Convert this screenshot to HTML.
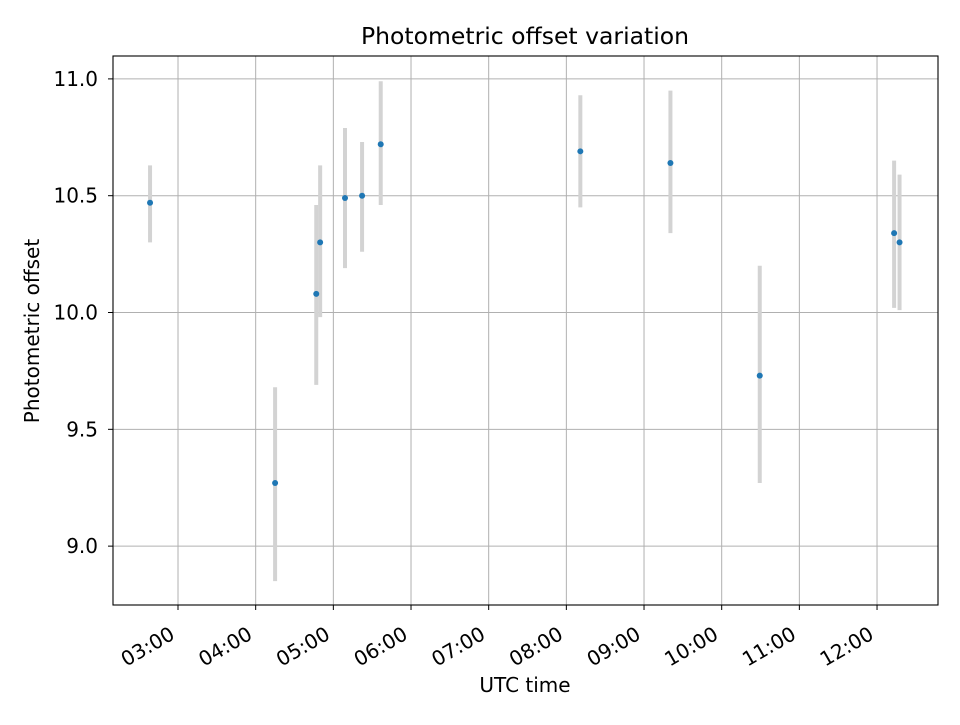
<!DOCTYPE html>
<html><head><meta charset="utf-8"><style>
body{margin:0;background:#fff;font-family:"Liberation Sans","DejaVu Sans",sans-serif;}
svg text{font-family:"DejaVu Sans","Liberation Sans",sans-serif;}
</style></head><body>
<svg id="chart" width="960" height="720" viewBox="0 0 960 720" xmlns="http://www.w3.org/2000/svg">
<rect width="960" height="720" fill="#fff"/>
<g id="grid"></g>
<g id="errs"></g>
<g id="pts"></g>
<rect x="113" y="56" width="825" height="549" fill="none" stroke="#000" stroke-width="1.1"/>
<g id="ticks"></g>
<text x="525" y="44" text-anchor="middle" font-size="23.5">Photometric offset variation</text>
<text x="525" y="692" text-anchor="middle" font-size="20">UTC time</text>
<text transform="translate(39,331) rotate(-90)" text-anchor="middle" font-size="20">Photometric offset</text>
</svg>
<script>
const times = [2.64, 4.25, 4.78, 4.83, 5.15, 5.37, 5.61, 8.18, 9.34, 10.49, 12.22, 12.29];
const values = [10.47, 9.27, 10.08, 10.30, 10.49, 10.50, 10.72, 10.69, 10.64, 9.73, 10.34, 10.30];
const lows = [10.30, 8.85, 9.69, 9.98, 10.19, 10.26, 10.46, 10.45, 10.34, 9.27, 10.02, 10.01];
const highs = [10.63, 9.68, 10.46, 10.63, 10.79, 10.73, 10.99, 10.93, 10.95, 10.20, 10.65, 10.59];
const xTicks = [3,4,5,6,7,8,9,10,11,12];
const xTickLabels = ["03:00","04:00","05:00","06:00","07:00","08:00","09:00","10:00","11:00","12:00"];
const yTicks = [9.0, 9.5, 10.0, 10.5, 11.0];
const yTickLabels = ["9.0","9.5","10.0","10.5","11.0"];

const L=113,R=938,T=56,B=605, xMin=2.163,xMax=12.785,yMin=8.748,yMax=11.098;
const xs=v=>L+(v-xMin)/(xMax-xMin)*(R-L);
const ys=v=>B-(v-yMin)/(yMax-yMin)*(B-T);
const NS="http://www.w3.org/2000/svg";
function mk(tag,attrs,parent){const e=document.createElementNS(NS,tag);for(const k in attrs)e.setAttribute(k,attrs[k]);parent.appendChild(e);return e;}
const grid=document.getElementById('grid'),ticks=document.getElementById('ticks');
xTicks.forEach((t,i)=>{
  const x=xs(t);
  const g=mk('line',{x1:x,x2:x,y1:T,y2:B,stroke:'#b0b0b0','stroke-width':1},grid);
  
  
  const tk=mk('line',{x1:x,x2:x,y1:B,y2:B+5,stroke:'#000','stroke-width':1},ticks);
  
  
  const tx=mk('text',{x:0,y:0,'text-anchor':'end','font-size':20,transform:`translate(${x-2},${B+33}) rotate(-30)`},ticks);
  tx.textContent=xTickLabels[i];
  
  
});
yTicks.forEach((t,i)=>{
  const y=ys(t);
  const g=mk('line',{x1:L,x2:R,y1:y,y2:y,stroke:'#b0b0b0','stroke-width':1},grid);
  
  
  const tk=mk('line',{x1:L-5,x2:L,y1:y,y2:y,stroke:'#000','stroke-width':1},ticks);
  
  
  const tx=mk('text',{x:L-15,y:y+7,'text-anchor':'end','font-size':20},ticks);
  tx.textContent=yTickLabels[i];
  
  
});
const errs=document.getElementById('errs'),pts=document.getElementById('pts');
times.forEach((t,i)=>{
  const x=xs(t);
  const e=mk('line',{x1:x,x2:x,y1:ys(lows[i]),y2:ys(highs[i]),stroke:'#d3d3d3','stroke-width':4},errs);
  
  
  const c=mk('circle',{cx:x,cy:ys(values[i]),r:3,fill:'#1f77b4'},pts);
  
  
});
</script>
</body></html>
